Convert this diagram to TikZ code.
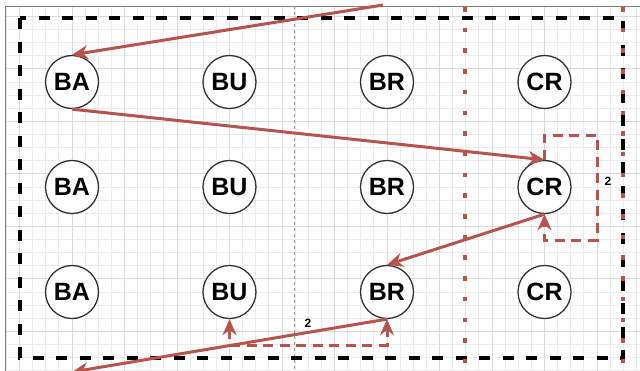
\documentclass[tikz,border=0pt]{standalone}
\usepackage{fontspec}
\setmainfont{Liberation Sans}
\usetikzlibrary{arrows.meta}
\definecolor{rd}{HTML}{B85450}
\definecolor{gmin}{HTML}{EBEBEB}
\definecolor{gmaj}{HTML}{DADADA}
\tikzset{
  gridminor/.style={draw=gmin, line width=0.8pt},
  gridmajor/.style={draw=gmaj, line width=0.9pt},
  cnode/.style={circle, draw=black!80, line width=1.3pt, fill=white, minimum size=53pt, inner sep=0pt, font=\fontsize{25}{25}\selectfont\bfseries},
  lbl/.style={font=\fontsize{12}{12}\selectfont\bfseries, inner sep=1pt},
  redarr/.style={draw=rd, line width=3pt, -{Stealth[length=16pt, width=14pt, inset=5pt]}},
  reddash/.style={draw=rd, line width=3pt, dash pattern=on 10pt off 6.5pt},
  redtip/.style={-{Stealth[length=16pt, width=14pt, inset=5pt]}},
  redtips/.style={{Stealth[length=16pt, width=14pt, inset=5pt]}-{Stealth[length=16pt, width=14pt, inset=5pt]}},
  blackdash/.style={draw=black, line width=3.5pt, dash pattern=on 11pt off 12.5pt},
  reddot/.style={draw=rd, line width=4.5pt, dash pattern=on 4.5pt off 16.2pt},
  graydash/.style={draw=black!40, line width=0.8pt, dash pattern=on 3pt off 3pt}
}
\begin{document}
\begin{tikzpicture}[x=1pt,y=-1pt]
\useasboundingbox (0,0) rectangle (640,370);
\fill[white] (0,0) rectangle (640,370);
% grid
\begin{scope}
\clip (5,6) rectangle (641,371);
\foreach \i in {-6,...,45} \draw[gridminor] ({72+13.125*\i},0) -- ({72+13.125*\i},372);
\foreach \j in {-6,...,23} \draw[gridminor] (0,{82+13.125*\j}) -- (642,{82+13.125*\j});
\foreach \i in {-2,...,11} \draw[gridmajor] ({72+52.5*\i},0) -- ({72+52.5*\i},372);
\foreach \j in {-1,...,6} \draw[gridmajor] (0,{68.875+52.5*\j}) -- (642,{68.875+52.5*\j});
\end{scope}
\draw[black!50, line width=1pt] (5,371) -- (5,6) -- (641,6);
% guides
\draw[graydash] (294,6) -- (294,371);
\draw[blackdash] (20,18) rectangle (623,358);
\draw[reddot] (465,7) -- (465,372);
\draw[reddot] (623,7) -- (623,372);
% nodes
\node[cnode] (BA1) at (72,82) {BA};
\node[cnode] (BU1) at (229.5,82) {BU};
\node[cnode] (BR1) at (387,82) {BR};
\node[cnode] (CR1) at (544.5,82) {CR};
\node[cnode] (BA2) at (72,187) {BA};
\node[cnode] (BU2) at (229.5,187) {BU};
\node[cnode] (BR2) at (387,187) {BR};
\node[cnode] (CR2) at (544.5,187) {CR};
\node[cnode] (BA3) at (72,292) {BA};
\node[cnode] (BU3) at (229.5,292) {BU};
\node[cnode] (BR3) at (387,292) {BR};
\node[cnode] (CR3) at (544.5,292) {CR};
% connectors
\coordinate (s1) at (383,5);
\coordinate (e4) at (72,372);
\coordinate (l1) at (597,135);
\coordinate (l2) at (597,240);
\coordinate (m1) at (300,345);
\draw[reddash, redtip] (CR2.north) |- (l1) -- (l2) -| (CR2.south);
\draw[reddash, redtips] (BU3.south) |- (m1) -| (BR3.south);
\draw[redarr] (s1) -- (BA1.north);
\draw[redarr] (BA1.south) -- (CR2.north);
\draw[redarr] (CR2.south) -- (BR3.north);
\draw[redarr] (BR3.south) -- (e4);
\node[lbl] (t1) at (608,181) {2};
\node[lbl] (t2) at (308,323) {2};
\end{tikzpicture}
\end{document}
